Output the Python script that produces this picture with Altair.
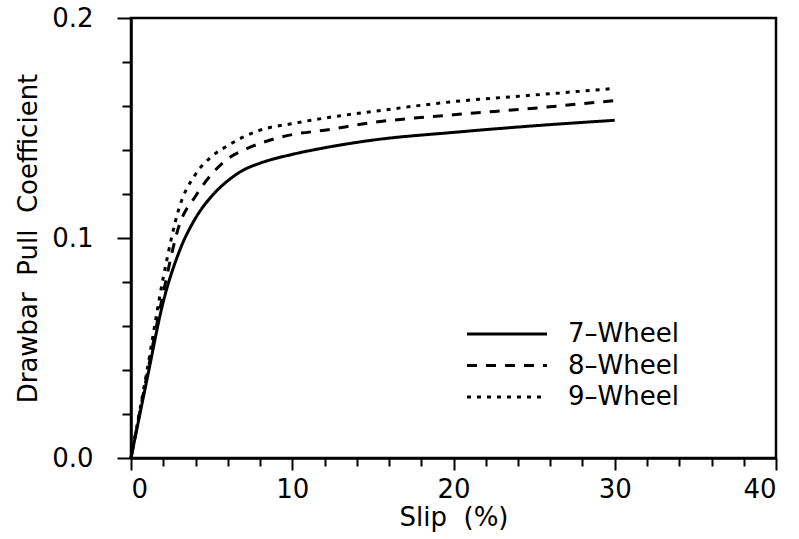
import altair as alt
import pandas as pd

slip_7 = [0, 1, 2, 3, 4, 5, 6, 7, 8, 10, 12, 15, 20, 25, 30]
dp_7 = [0.0, 0.036, 0.071, 0.094, 0.109, 0.119, 0.126, 0.131, 0.134, 0.138, 0.141, 0.1445, 0.148, 0.151, 0.1535]

slip_8 = [0, 1, 2, 3, 4, 5, 6, 7, 8, 10, 12, 15, 20, 25, 30]
dp_8 = [0.0, 0.038, 0.075, 0.106, 0.119, 0.129, 0.136, 0.140, 0.143, 0.147, 0.149, 0.1525, 0.156, 0.159, 0.1625]

slip_9 = [0, 1, 2, 3, 4, 5, 6, 7, 8, 10, 12, 15, 20, 25, 30]
dp_9 = [0.0, 0.040, 0.082, 0.114, 0.129, 0.137, 0.142, 0.146, 0.149, 0.152, 0.1545, 0.1575, 0.162, 0.165, 0.168]

series = ["7–Wheel", "8–Wheel", "9–Wheel"]
dashes = [[1, 0], [10, 9], [4, 6]]

x_ticks = list(range(0, 41, 2))
y_ticks = [round(i * 0.02, 2) for i in range(11)]

rows = []
for name, xs, ys in zip(series, [slip_7, slip_8, slip_9], [dp_7, dp_8, dp_9]):
    for xv, yv in zip(xs, ys):
        rows.append({"slip": xv, "dp": yv, "series": name})
df = pd.DataFrame(rows)

FONT = "DejaVu Sans"
NB = "\u00a0"

chart = alt.Chart(df).mark_line(color="black", strokeWidth=3, interpolate="monotone").encode(
    x=alt.X("slip:Q", scale=alt.Scale(domain=[0, 40], nice=False),
            axis=alt.Axis(values=x_ticks, title=f"Slip{NB}{NB}(%)",
                          labelExpr="datum.value % 10 === 0 ? datum.label : ''",
                          tickSize=alt.ExprRef("datum.value % 10 === 0 ? 12 : 8"),
                          labelPadding=6, titlePadding=2)),
    y=alt.Y("dp:Q", scale=alt.Scale(domain=[0, 0.2], nice=False),
            axis=alt.Axis(values=y_ticks, title=f"Drawbar{NB}{NB}Pull{NB}{NB}Coefficient", format=".1f",
                          labelExpr="round(datum.value * 100) % 10 === 0 ? datum.label : ''",
                          tickSize=alt.ExprRef("round(datum.value * 100) % 10 === 0 ? 14 : 9"),
                          labelPadding=24, titlePadding=10)),
    strokeDash=alt.StrokeDash("series:N", scale=alt.Scale(domain=series, range=dashes),
                              legend=alt.Legend(title=None, orient="none", legendX=363, legendY=303,
                                                symbolType="M-4,0H4", symbolSize=400,
                                                symbolStrokeWidth=3, symbolStrokeColor="black",
                                                symbolFillColor="transparent",
                                                labelFontSize=26, labelFont=FONT, labelColor="black",
                                                rowPadding=5.5, labelOffset=48)),
).properties(
    width=645, height=440,
    background="white",
    autosize=alt.AutoSizeParams(type="none"),
    padding={"left": 131, "top": 18, "right": 23, "bottom": 81},
).configure_view(
    stroke="black", strokeWidth=2.5
).configure_axis(
    domainColor="black", domainWidth=2.5, tickColor="black", tickWidth=2,
    labelFont=FONT, labelFontSize=26, labelColor="black", labelOverlap=False,
    titleFont=FONT, titleFontSize=26, titleColor="black", titleFontWeight="normal",
    grid=False,
)

chart.save("out.html", embed_options={"renderer": "svg", "actions": False})
